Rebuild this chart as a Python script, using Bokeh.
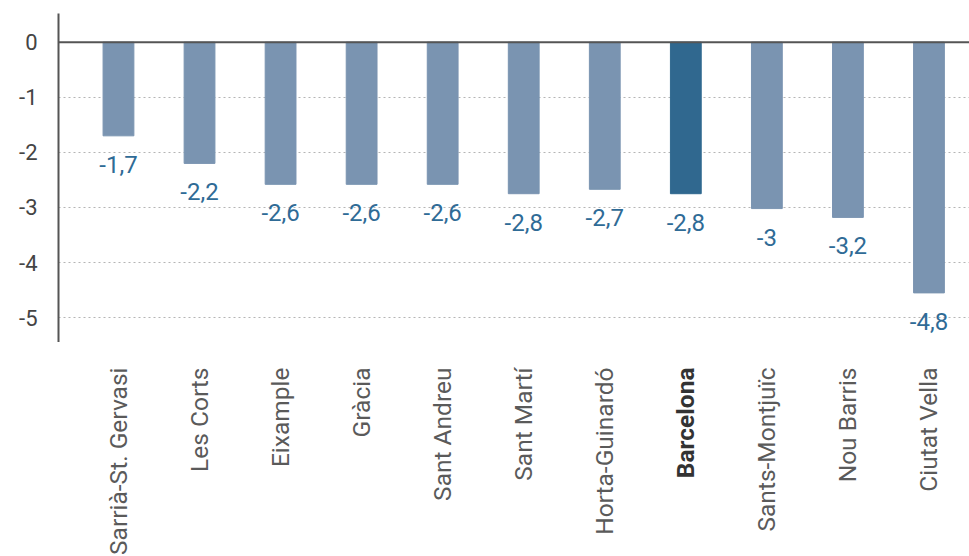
import numpy as np
from bokeh.plotting import figure
from bokeh.layouts import column
from bokeh.models import Range1d, FixedTicker, Span, ColumnDataSource
from bokeh.core.properties import value
from bokeh.embed import file_html
from bokeh.resources import INLINE

districts = ["Sarrià-St. Gervasi", "Les Corts", "Eixample", "Gràcia", "Sant Andreu",
             "Sant Martí", "Horta-Guinardó", "Barcelona", "Sants-Montjuïc",
             "Nou Barris", "Ciutat Vella"]
bar_values = [-1.7, -2.2, -2.58, -2.58, -2.58, -2.75, -2.67, -2.75, -3.02, -3.18, -4.55]
value_labels = ["-1,7", "-2,2", "-2,6", "-2,6", "-2,6", "-2,8", "-2,7", "-2,8", "-3", "-3,2", "-4,8"]
y_ticks = [0, -1, -2, -3, -4, -5]
highlight = "Barcelona"

LIGHT = "#7a94b1"
DARK = "#30688f"
LABEL_BLUE = "#2f6b96"

xs = list(range(len(districts)))
colors = [DARK if d == highlight else LIGHT for d in districts]
styles = ["bold" if d == highlight else "normal" for d in districts]
tcolors = ["#333333" if d == highlight else "#5a5a5a" for d in districts]
src = ColumnDataSource(dict(x=xs, v=bar_values, lab=value_labels, c=colors,
                            name=districts, fs=styles, tc=tcolors))

x_range = Range1d(-0.74, 10.5)

p = figure(width=969, height=342, x_range=x_range, y_range=Range1d(-5.45, 0.52),
           output_backend="svg", toolbar_location=None, x_axis_location=None,
           min_border_left=58, min_border_right=0, min_border_top=13, min_border_bottom=0)
p.outline_line_color = None
p.background_fill_color = "white"
p.border_fill_color = "white"

p.vbar(x="x", top=0, bottom="v", width=0.38, color="c", source=src)
p.text(x="x", y="v", text="lab", source=src, text_align="center", text_baseline="top",
       y_offset=20, text_font=value("Roboto"), text_font_size="24px", text_color=LABEL_BLUE)

p.add_layout(Span(location=0, dimension="width", line_color="#555555", line_width=2))

p.xgrid.grid_line_color = None
p.ygrid.ticker = FixedTicker(ticks=[t for t in y_ticks if t != 0])
p.ygrid.grid_line_color = "#b5b5b5"
p.ygrid.grid_line_dash = "2 3"
p.ygrid.grid_line_width = 1

p.yaxis.ticker = FixedTicker(ticks=y_ticks)
p.yaxis.major_label_overrides = {t: str(t) for t in y_ticks}
p.yaxis.axis_line_color = "#555555"
p.yaxis.axis_line_width = 2
p.yaxis.major_tick_line_color = None
p.yaxis.major_tick_out = 0
p.yaxis.major_tick_in = 0
p.yaxis.minor_tick_line_color = None
p.yaxis.major_label_standoff = 21
p.yaxis.major_label_text_font = "Roboto"
p.yaxis.major_label_text_font_size = "22px"
p.yaxis.major_label_text_color = "#444444"

# category labels strip (shares the x scale of the chart)
q = figure(width=969, height=214, x_range=x_range, y_range=Range1d(-214, 0),
           output_backend="svg", toolbar_location=None,
           x_axis_location=None, y_axis_location=None,
           min_border_left=58, min_border_right=0, min_border_top=0, min_border_bottom=0)
q.outline_line_color = None
q.grid.grid_line_color = None
q.border_fill_color = "white"
q.text(x="x", y=-25, text="name", source=src, angle=np.pi / 2,
       text_align="right", text_baseline="middle", text_font=value("Roboto"),
       text_font_size="24.5px", text_font_style="fs", text_color="tc")

layout = column(p, q, spacing=0)
open("out.html", "w").write(file_html(layout, INLINE))
